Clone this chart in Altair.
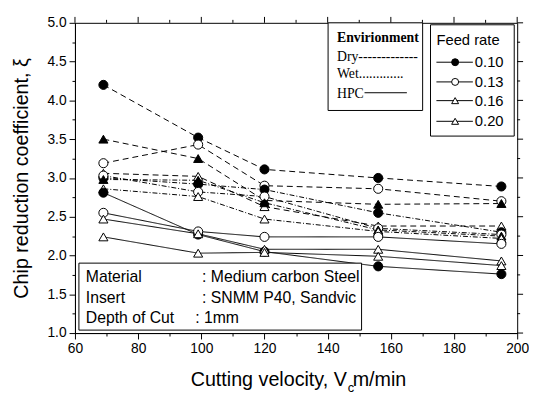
import altair as alt
import pandas as pd

velocity = [69, 99, 120, 156, 195]
feed_rates = ["0.10", "0.13", "0.16", "0.20"]
environments = ["Dry", "Wet", "HPC"]

dry_010 = [4.20, 3.52, 3.11, 3.00, 2.89]
dry_013 = [3.19, 3.43, 2.90, 2.86, 2.70]
dry_016 = [3.50, 3.25, 2.71, 2.66, 2.67]
dry_020 = [3.06, 3.02, 2.63, 2.38, 2.38]
wet_010 = [3.00, 2.92, 2.85, 2.55, 2.30]
wet_013 = [3.03, 2.82, 2.76, 2.35, 2.27]
wet_016 = [2.98, 2.97, 2.68, 2.33, 2.25]
wet_020 = [2.86, 2.76, 2.47, 2.31, 2.22]
hpc_010 = [2.81, 2.27, 2.05, 1.86, 1.76]
hpc_013 = [2.55, 2.31, 2.24, 2.24, 2.15]
hpc_016 = [2.47, 2.28, 2.08, 2.08, 1.93]
hpc_020 = [2.24, 2.03, 2.04, 1.99, 1.87]

x_major = [60, 80, 100, 120, 140, 160, 180, 200]
x_minor = [70, 90, 110, 130, 150, 170, 190]
y_major = [1.0, 1.5, 2.0, 2.5, 3.0, 3.5, 4.0, 4.5, 5.0]
y_minor = [1.25, 1.75, 2.25, 2.75, 3.25, 3.75, 4.25, 4.75]

series = {
    ("Dry", "0.10"): dry_010, ("Dry", "0.13"): dry_013,
    ("Dry", "0.16"): dry_016, ("Dry", "0.20"): dry_020,
    ("Wet", "0.10"): wet_010, ("Wet", "0.13"): wet_013,
    ("Wet", "0.16"): wet_016, ("Wet", "0.20"): wet_020,
    ("HPC", "0.10"): hpc_010, ("HPC", "0.13"): hpc_013,
    ("HPC", "0.16"): hpc_016, ("HPC", "0.20"): hpc_020,
}

rows = []
for (env, feed), vals in series.items():
    filled = feed == "0.10" or (feed == "0.16" and env != "HPC")
    for v, xi in zip(velocity, vals):
        rows.append({"v": v, "xi": xi, "env": env, "feed": feed,
                     "series": env + feed,
                     "fillc": "black" if filled else "white"})
df = pd.DataFrame(rows)

FONT = "Liberation Sans"
SERIF = "Liberation Serif"

x_vals = sorted(x_major + x_minor)
y_vals = sorted(y_major + y_minor)

x_tick = {"condition": {"test": "datum.value % 20 === 0", "value": 6}, "value": 3}
y_tick = {"condition": {"test": "datum.value % 0.5 === 0", "value": 6}, "value": 3}

xax = alt.Axis(values=x_vals, labelExpr="datum.value % 20 === 0 ? datum.label : ''",
               tickSize=x_tick, grid=False, title=None, labelFont=FONT, labelFontSize=14,
               labelColor="black", tickColor="black", domainColor="black", labelPadding=3,
               labelFlush=False, labelOverlap=False)
yax = alt.Axis(values=y_vals, labelExpr="datum.value % 0.5 === 0 ? format(datum.value, '.1f') : ''",
               tickSize=y_tick, grid=False, title="Chip reduction coefficient, ξ",
               titleFont=FONT, titleFontSize=20, titleFontWeight="normal", titleColor="black",
               titlePadding=16, labelFont=FONT, labelFontSize=14, labelColor="black",
               tickColor="black", domainColor="black", labelPadding=3,
               labelFlush=False, labelOverlap=False)

xs = alt.Scale(domain=[60, 200], nice=False, zero=False)
ys = alt.Scale(domain=[1, 5], nice=False, zero=False)

base = alt.Chart(df)
lines = base.mark_line(color="black", strokeWidth=1).encode(
    x=alt.X("v:Q", scale=xs, axis=xax),
    y=alt.Y("xi:Q", scale=ys, axis=yax),
    detail="series:N",
    strokeDash=alt.StrokeDash("env:N", scale=alt.Scale(domain=environments,
                              range=[[6, 4], [5, 2, 1, 2], [1, 0]]), legend=None),
)
points = base.mark_point(filled=True, stroke="black", strokeWidth=1, size=85, opacity=1).encode(
    x=alt.X("v:Q", scale=xs, axis=xax),
    y=alt.Y("xi:Q", scale=ys, axis=yax),
    shape=alt.Shape("feed:N", scale=alt.Scale(domain=feed_rates,
                    range=["circle", "circle", "triangle-up", "triangle-up"]), legend=None),
    fill=alt.Fill("fillc:N", scale=None),
)


def top_ticks(vals, length):
    return alt.Chart(pd.DataFrame({"t": vals})).mark_rule(color="black", strokeWidth=1).encode(
        x=alt.X("t:Q", scale=xs, axis=xax), y=alt.value(0), y2=alt.value(-length))


def right_ticks(vals, length):
    return alt.Chart(pd.DataFrame({"t": vals})).mark_rule(color="black", strokeWidth=1).encode(
        y=alt.Y("t:Q", scale=ys, axis=yax), x=alt.value(449), x2=alt.value(449 + length))


one = pd.DataFrame({"k": [0]})


def txt(s, x, y, size=15, font=FONT, weight="normal", align="left", baseline="middle"):
    return alt.Chart(one).mark_text(text=s, align=align, baseline=baseline, fontSize=size,
                                    font=font, fontWeight=weight, color="black").encode(
        x=alt.value(x), y=alt.value(y))


def box(x1, x2, y1, y2):
    return alt.Chart(one).mark_rect(fill="white", stroke="black", strokeWidth=1).encode(
        x=alt.value(x1), x2=alt.value(x2), y=alt.value(y1), y2=alt.value(y2))


def hline(x1, x2, y):
    return alt.Chart(one).mark_rule(color="black", strokeWidth=1).encode(
        x=alt.value(x1), x2=alt.value(x2), y=alt.value(y))


def marker(shape, fill, x, y):
    return alt.Chart(one).mark_point(shape=shape, filled=True, fill=fill, stroke="black",
                                     strokeWidth=1, size=50, opacity=1).encode(
        x=alt.value(x), y=alt.value(y))


layers = [lines, points,
          top_ticks(x_major, 6), top_ticks(x_minor, 3),
          right_ticks(y_major, 6), right_ticks(y_minor, 3)]

# Environment box
layers += [box(257, 353, 0, 89),
           txt("Envirionment", 266, 15, size=14, font=SERIF, weight="bold"),
           txt("Dry-------------", 266, 35, size=14, font=SERIF),
           txt("Wet.............", 266, 52, size=14, font=SERIF),
           txt("HPC", 266, 72, size=14, font=SERIF),
           hline(294, 337, 71)]

# Feed rate box
layers += [box(361, 446, 2, 115), txt("Feed rate", 367, 18)]
feed_marks = [("circle", "black"), ("circle", "white"), ("triangle-up", "white"), ("triangle-up", "white")]
for i, (fr, (shp, fc)) in enumerate(zip(feed_rates, feed_marks)):
    yy = [40, 60, 79, 100][i]
    layers += [hline(367, 404, yy), marker(shp, fc, 386, yy), txt(fr, 406, yy)]

# Info box
layers += [box(4, 291, 244, 312),
           txt("Material", 11, 258, size=16), txt(":  Medium carbon Steel", 129, 258, size=16),
           txt("Insert", 11, 279, size=16), txt(":  SNMM P40, Sandvic", 129, 279, size=16),
           txt("Depth of Cut", 11, 300, size=16), txt(":  1mm", 122, 300, size=16)]

# x-axis title with subscript
layers += [txt("Cutting velocity, V", 276, 369, size=20, align="right", baseline="alphabetic"),
           txt("c", 277, 375, size=13, baseline="alphabetic"),
           txt("m/min", 282, 369, size=20, baseline="alphabetic")]

chart = alt.layer(*layers).properties(
    width=449, height=315,
    padding={"left": 68, "top": 12, "right": 12, "bottom": 70},
    autosize=alt.AutoSizeParams(type="none"),
    background="white",
).configure_view(stroke="black", strokeWidth=1)

chart.save("out.html", embed_options={"renderer": "svg", "actions": False})
